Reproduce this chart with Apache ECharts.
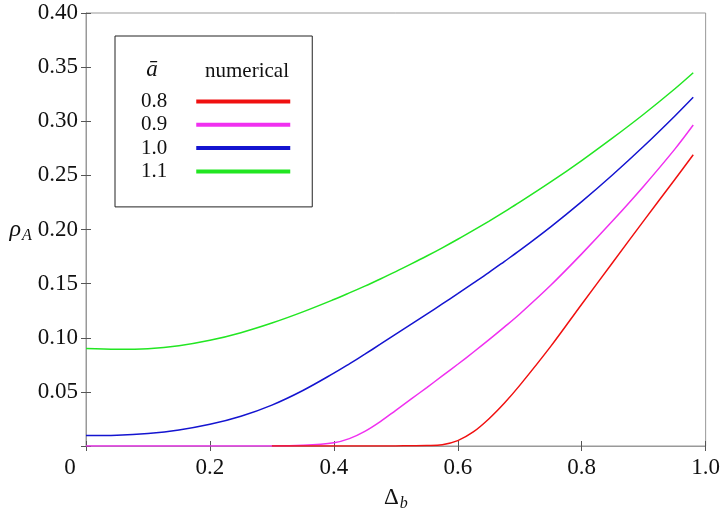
<!DOCTYPE html>
<html><head><meta charset="utf-8">
<script src="https://cdn.jsdelivr.net/npm/echarts@6/dist/echarts.min.js"></script>
<style>html,body{margin:0;padding:0;background:#fff}#c{width:723px;height:518px}</style>
</head><body><div id="c"></div>
<script>
// Δ_b sample positions
const deltaB = [0,0.05,0.1,0.15,0.2,0.25,0.3,0.35,0.4,0.425,0.45,0.475,0.5,0.525,0.55,0.575,0.6,0.625,0.65,0.675,0.7,0.75,0.8,0.85,0.9,0.95,0.98];
// series names (a-bar values)
const aBar = ['0.8','0.9','1.0','1.1'];
// rho_A values
const rho08 = [null,null,null,null,null,null,0,0,0,0,0,0,0.0001,0.0002,0.0004,0.0012,0.0050,0.0130,0.0250,0.0395,0.0560,0.0920,0.1310,0.1695,0.2080,0.2460,0.2690];
const rho09 = [0,0,0,0,0,0,0,0.0006,0.0030,0.0068,0.0135,0.0225,0.0330,0.0435,0.0540,0.0647,0.0755,0.0866,0.0980,0.1098,0.1220,0.1485,0.1775,0.2080,0.2400,0.2740,0.2965];
const rho10 = [0.0097,0.0100,0.0116,0.0148,0.0200,0.0275,0.0378,0.0513,0.0673,0.0759,0.0848,0.0940,0.1034,0.1126,0.1219,0.1312,0.1407,0.1504,0.1602,0.1704,0.1807,0.2025,0.2258,0.2506,0.2769,0.3047,0.3222];
const rho11 = [0.0900,0.0893,0.0899,0.0926,0.0976,0.1047,0.1136,0.1239,0.1353,0.1414,0.1477,0.1543,0.1611,0.1682,0.1755,0.1831,0.1910,0.1992,0.2076,0.2163,0.2252,0.2439,0.2637,0.2846,0.3065,0.3298,0.3448];

const colors = ['#f01010','#f030f0','#1414d0','#22e622'];
const allRho = [rho08, rho09, rho10, rho11];
const FONT = '"Liberation Serif","Times New Roman",serif';

const chart = echarts.init(document.getElementById('c'), null, {renderer:'canvas'});
const series = aBar.map((name, i) => ({
  name: name,
  type: 'line',
  data: deltaB.map((x, k) => [x, allRho[i][k]]),
  showSymbol: false,
  smooth: 0.35,
  connectNulls: false,
  lineStyle: {color: colors[i], width: 1.5},
  itemStyle: {color: colors[i]},
  z: 2 + i
}));
// red drawn over magenta along the baseline
series[0].z = 10;

const tickStyle = {show:true, inside:true, length:5, lineStyle:{color:'#555', width:1}};
chart.setOption({
  animation: false,
  backgroundColor: '#fff',
  grid: {left:86, right:17, top:13, bottom:72, show:true, borderColor:'#999', borderWidth:1, backgroundColor:'transparent'},
  xAxis: [{
    type:'value', min:0, max:1, interval:0.2,
    axisLine:{show:true, lineStyle:{color:'#999'}},
    axisTick: tickStyle,
    splitLine:{show:false},
    axisLabel:{
      margin:10, color:'#111', fontFamily:FONT, fontSize:23,
      formatter: v => Math.abs(v) < 1e-9 ? '{z|0}' : v.toFixed(1),
      rich:{z:{fontFamily:FONT, fontSize:23, color:'#111', padding:[0,32,0,0]}}
    },
    name:'{d|Δ}{b|b}', nameLocation:'middle', nameGap:38,
    nameTextStyle:{rich:{
      d:{fontFamily:FONT, fontSize:23, color:'#111'},
      b:{fontFamily:FONT, fontSize:16, fontStyle:'italic', color:'#111', padding:[12,0,0,1]}
    }}
  },{
    type:'value', min:0, max:1, interval:0.2, position:'top',
    axisLine:{show:true, lineStyle:{color:'#999'}},
    axisTick: tickStyle, axisLabel:{show:false}, splitLine:{show:false}
  }],
  yAxis: [{
    type:'value', min:0, max:0.4, interval:0.05,
    axisLine:{show:true, lineStyle:{color:'#999'}},
    axisTick: tickStyle,
    splitLine:{show:false},
    axisLabel:{
      margin:8, color:'#111', fontFamily:FONT, fontSize:23,
      formatter: v => Math.abs(v) < 1e-9 ? '' : v.toFixed(2)
    },
    name:'{r|ρ}{s|A}', nameLocation:'middle', nameGap:50, nameRotate:0,
    nameTextStyle:{rich:{
      r:{fontFamily:FONT, fontSize:24, fontStyle:'italic', color:'#111'},
      s:{fontFamily:FONT, fontSize:16, fontStyle:'italic', color:'#111', padding:[12,0,0,1]}
    }}
  },{
    type:'value', min:0, max:0.4, interval:0.05, position:'right',
    axisLine:{show:true, lineStyle:{color:'#999'}},
    axisTick: tickStyle, axisLabel:{show:false}, splitLine:{show:false}
  }],
  legend: {
    show:true, orient:'vertical', left:115, top:36, align:'right',
    icon:'rect', itemWidth:94, itemHeight:4, itemGap:2.3,
    padding:[55,22,25,26],
    borderColor:'#222', borderWidth:1, backgroundColor:'#fff',
    selectedMode:false,
    data: aBar,
    textStyle:{fontFamily:FONT, fontSize:21, color:'#111', lineHeight:20, padding:[0,24,0,0]}
  },
  graphic: [
    {type:'text', x:152, y:70, z:100, style:{text:'ā', font:'italic 23px "Liberation Serif"', fill:'#111', textAlign:'center', textVerticalAlign:'middle', verticalAlign:'middle'}},
    {type:'text', x:247, y:71, z:100, style:{text:'numerical', font:'21px "Liberation Serif"', fill:'#111', textAlign:'center', textVerticalAlign:'middle', verticalAlign:'middle'}}
  ],
  series: series
});
</script>
</body></html>
